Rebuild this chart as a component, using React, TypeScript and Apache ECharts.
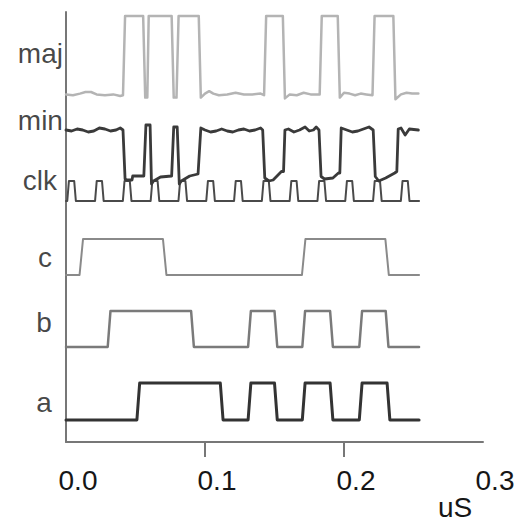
import React, { useEffect, useRef } from "react";
import * as echarts from "echarts";

// ---- data (times in uS) ----
const traceNames = ["maj", "min", "clk", "c", "b", "a"];

const aToggles = [0.052, 0.112, 0.132, 0.151, 0.171, 0.191, 0.212, 0.232];
const bToggles = [0.031, 0.091, 0.132, 0.151, 0.171, 0.191, 0.212, 0.231];
const cToggles = [0.011, 0.071, 0.171, 0.231];
const clkPulseStarts = [
  0.0015, 0.0215, 0.0415, 0.0615, 0.0815, 0.1015, 0.1215, 0.1415, 0.1615,
  0.1815, 0.2015, 0.2215, 0.2415,
];
const clkPulseWidth = 0.005;
const endTime = 0.254;

// analog traces: [time, level 0..1]
const majPoints: [number, number][] = [
  [0, 0.02], [0.005, 0.01], [0.01, 0.03], [0.014, 0.05], [0.018, 0.05], [0.022, 0.02],
  [0.028, 0.01], [0.034, 0.02], [0.039, 0.0], [0.041, 0.01],
  [0.0425, 1.0], [0.0555, 1.0], [0.057, -0.02], [0.0585, -0.02], [0.0595, 1.0],
  [0.076, 1.0], [0.0775, -0.02], [0.0795, -0.02], [0.081, 1.0], [0.0955, 1.0],
  [0.097, -0.02], [0.1, 0.03], [0.103, 0.06], [0.106, 0.03], [0.11, 0.01], [0.116, 0.02],
  [0.122, 0.04], [0.128, 0.02], [0.134, 0.02], [0.14, 0.03], [0.1425, 0.01],
  [0.144, 1.0], [0.156, 1.0], [0.1575, -0.03], [0.161, 0.02], [0.166, 0.01], [0.171, 0.04],
  [0.176, 0.02], [0.18, 0.02], [0.1825, 0.02],
  [0.184, 1.0], [0.1955, 1.0], [0.197, -0.02], [0.2, 0.04], [0.204, 0.03], [0.208, 0.01],
  [0.212, 0.03], [0.216, 0.02], [0.2205, 0.01],
  [0.222, 1.0], [0.2355, 1.0], [0.237, -0.04], [0.241, 0.02], [0.245, 0.04], [0.249, 0.03],
  [0.2535, 0.03],
];

const minPoints: [number, number][] = [
  [0, 0.98], [0.004, 0.96], [0.008, 1.0], [0.012, 0.98], [0.016, 0.94], [0.02, 0.96],
  [0.024, 1.02], [0.028, 1.0], [0.032, 0.96], [0.036, 0.98], [0.039, 1.02], [0.041, 0.98],
  [0.0425, 0.0], [0.044, -0.02], [0.0475, -0.02], [0.048, 0.06], [0.056, 0.06],
  [0.0575, 1.08], [0.0605, 1.08], [0.0615, -0.1], [0.063, -0.04], [0.068, 0.04],
  [0.076, 0.06], [0.0775, 1.04], [0.08, 1.04], [0.0815, -0.1], [0.083, -0.04],
  [0.089, 0.06], [0.095, 0.1], [0.097, 1.02],
  [0.1, 0.98], [0.104, 0.94], [0.108, 0.96], [0.112, 1.0], [0.116, 0.96], [0.12, 0.94],
  [0.124, 0.98], [0.128, 1.0], [0.132, 0.96], [0.136, 0.98], [0.14, 1.02], [0.1415, 0.98],
  [0.143, 0.02], [0.146, -0.04], [0.149, -0.02], [0.155, 0.15], [0.1565, 0.15],
  [0.1575, 0.98], [0.16, 1.0], [0.164, 0.94], [0.168, 0.98], [0.172, 1.04], [0.175, 0.96],
  [0.178, 0.98], [0.18, 1.04], [0.182, 0.98],
  [0.1835, 0.05], [0.186, 0.0], [0.192, 0.02], [0.196, 0.12], [0.197, 0.12],
  [0.198, 1.02], [0.202, 0.98], [0.206, 0.94], [0.21, 0.96], [0.214, 1.0], [0.218, 1.04],
  [0.221, 0.98], [0.2225, 0.05], [0.225, -0.04], [0.23, 0.02], [0.2365, 0.12],
  [0.238, 0.15], [0.239, 1.0], [0.241, 1.02], [0.244, 0.88], [0.247, 1.0], [0.2535, 0.98],
];

const xTickLabels = ["0.0", "0.1", "0.2", "0.3"];

// ---- layout / style (axis value units: bottom axis = 0, top = 430) ----
const layout: Record<string, { base: number; scale: number; color: string; width: number; labelV: number; labelDist: number }> = {
  maj: { base: 346, scale: 80, color: "#b4b4b4", width: 2.5, labelV: 389, labelDist: 3 },
  min: { base: 263, scale: 50, color: "#3a3a3a", width: 2.8, labelV: 322, labelDist: 3 },
  clk: { base: 241, scale: 20, color: "#4a4a4a", width: 2, labelV: 262, labelDist: 9 },
  c: { base: 167, scale: 36, color: "#8a8a8a", width: 2, labelV: 185, labelDist: 14 },
  b: { base: 95, scale: 36, color: "#7a7a7a", width: 2.5, labelV: 120, labelDist: 14 },
  a: { base: 22, scale: 37, color: "#333333", width: 3, labelV: 40, labelDist: 14 },
};

function stepPoints(toggles: number[], edge: number): [number, number][] {
  const pts: [number, number][] = [[0, 0]];
  let lvl = 0;
  for (const t of toggles) {
    pts.push([t - edge / 2, lvl]);
    lvl = 1 - lvl;
    pts.push([t + edge / 2, lvl]);
  }
  pts.push([endTime, lvl]);
  return pts;
}

function pulsePoints(starts: number[], width: number, edge: number): [number, number][] {
  const toggles: number[] = [];
  for (const s of starts) {
    toggles.push(s, s + width);
  }
  return stepPoints(toggles, edge);
}

const FONT = "Liberation Sans, Arial, Helvetica, sans-serif";
const TEXT_COLOR = "#161616";

export default function App() {
  const ref = useRef<HTMLDivElement>(null);
  useEffect(() => {
    if (!ref.current) return;
    const chart = echarts.init(ref.current, undefined, { renderer: "svg" });

    const raw: Record<string, [number, number][]> = {
      maj: majPoints,
      min: minPoints,
      clk: pulsePoints(clkPulseStarts, clkPulseWidth, 0.0012),
      c: stepPoints(cToggles, 0.0025),
      b: stepPoints(bToggles, 0.002),
      a: stepPoints(aToggles, 0.002),
    };

    const lineSeries = traceNames.map((name) => {
      const L = layout[name];
      return {
        type: "line",
        name,
        showSymbol: false,
        symbol: "none",
        silent: true,
        clip: false,
        data: raw[name].map(([t, v]) => [t, L.base + v * L.scale]),
        lineStyle: { color: L.color, width: L.width, join: "round", cap: "round" },
        z: name === "min" ? 4 : 3,
      };
    });

    const labelSeries = {
      type: "scatter",
      symbolSize: 0.1,
      silent: true,
      clip: false,
      data: traceNames.map((name) => ({
        value: [0, layout[name].labelV],
        name,
        label: {
          show: true,
          position: "left",
          distance: layout[name].labelDist,
          formatter: name,
          fontSize: 28,
          fontFamily: FONT,
          color: TEXT_COLOR,
        },
      })),
    };

    chart.setOption({
      animation: false,
      backgroundColor: "#ffffff",
      grid: { left: 66, right: 38, top: 12, bottom: 79, containLabel: false },
      xAxis: {
        type: "value",
        min: 0,
        max: 0.3,
        interval: 0.1,
        axisLine: { show: true, onZero: false, lineStyle: { color: "#777", width: 2 } },
        axisTick: { show: true, length: 15, customValues: [0.1, 0.2], lineStyle: { color: "#777", width: 2 } },
        splitLine: { show: false },
        axisLabel: {
          show: true,
          fontSize: 28,
          fontFamily: FONT,
          color: TEXT_COLOR,
          margin: 24,
          padding: [0, 0, 0, 24],
          showMinLabel: true,
          showMaxLabel: true,
          formatter: (v: number) => xTickLabels[Math.round(v * 10)] ?? "",
        },
      },
      yAxis: {
        type: "value",
        min: 0,
        max: 430,
        axisLine: { show: true, lineStyle: { color: "#777", width: 2 } },
        axisTick: { show: false },
        axisLabel: { show: false },
        splitLine: { show: false },
      },
      graphic: [
        {
          type: "text",
          x: 438,
          y: 507,
          style: {
            text: "uS",
            fontSize: 28,
            fontFamily: FONT,
            fill: TEXT_COLOR,
            verticalAlign: "middle",
            align: "left",
          },
        },
      ],
      series: [...lineSeries, labelSeries],
    });

    return () => chart.dispose();
  }, []);

  return (
    <div
      ref={ref}
      style={{ position: "fixed", left: 0, top: 0, width: 521, height: 521, background: "#fff" }}
    />
  );
}
